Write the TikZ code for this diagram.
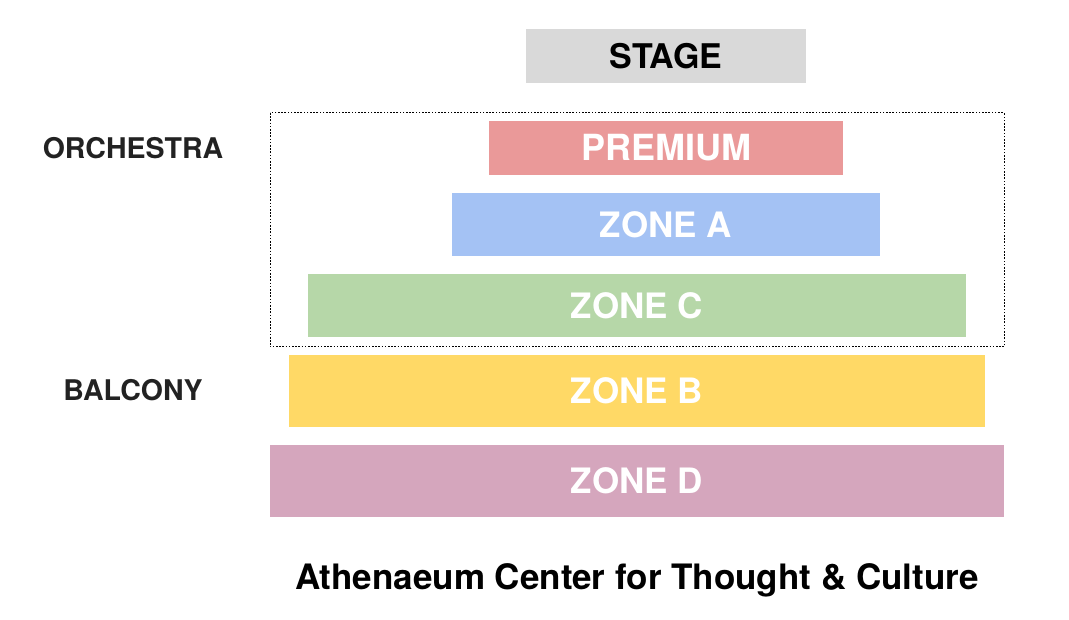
\documentclass[tikz,border=0pt]{standalone}
\usepackage{fontspec}
\setmainfont{TeX Gyre Heros}
\usetikzlibrary{positioning}
\definecolor{stagegray}{HTML}{D9D9D9}
\definecolor{premiumred}{HTML}{EA9999}
\definecolor{zoneablue}{HTML}{A4C2F4}
\definecolor{zonecgreen}{HTML}{B6D7A8}
\definecolor{zonebyellow}{HTML}{FFD966}
\definecolor{zonedpink}{HTML}{D5A6BD}
\definecolor{labeldark}{HTML}{222222}
\tikzset{
  zone/.style={rectangle, inner sep=0pt, text=white, font=\bfseries\fontsize{35}{40}\selectfont},
  sidelabel/.style={inner sep=0pt, text=labeldark, font=\bfseries\fontsize{28.5}{32}\selectfont}
}

\begin{document}
\begin{tikzpicture}[x=1pt, y=-1pt]
    \useasboundingbox (0,0) rectangle (1069,620);

    % Stage
    \node[zone, fill=stagegray, text=black, font=\bfseries\fontsize{34}{38}\selectfont, minimum width=280pt, minimum height=54pt] (stage) at (666,56) {STAGE};

    % Orchestra seating
    \draw[line width=1pt, dash pattern=on 1.6pt off 1.6pt] (270,113) rectangle (1004,347);
    \node[zone, fill=premiumred, font=\bfseries\fontsize{36}{40}\selectfont, minimum width=354pt, minimum height=54pt] (premium) at (666,148) {PREMIUM};
    \node[zone, fill=zoneablue, minimum width=428pt, minimum height=63pt] (zonea) at (666,224.5) {ZONE A};
    \node[zone, fill=zonecgreen, minimum width=658pt, minimum height=63pt] (zonec) at (637,305.5) {ZONE C};

    % Balcony seating
    \node[zone, fill=zonebyellow, minimum width=696pt, minimum height=72pt] (zoneb) at (637,391) {ZONE B};
    \node[zone, fill=zonedpink, minimum width=734pt, minimum height=72pt] (zoned) at (637,481) {ZONE D};

    % Section labels
    \node[sidelabel] (orchestra) at (133,148) {ORCHESTRA};
    \node[sidelabel] (balcony) at (133,390) {BALCONY};

    % Venue name
    \node[inner sep=0pt, font=\bfseries\fontsize{35}{40}\selectfont] (venue) at (637,580) {Athenaeum Center for Thought \& Culture};
\end{tikzpicture}
\end{document}
